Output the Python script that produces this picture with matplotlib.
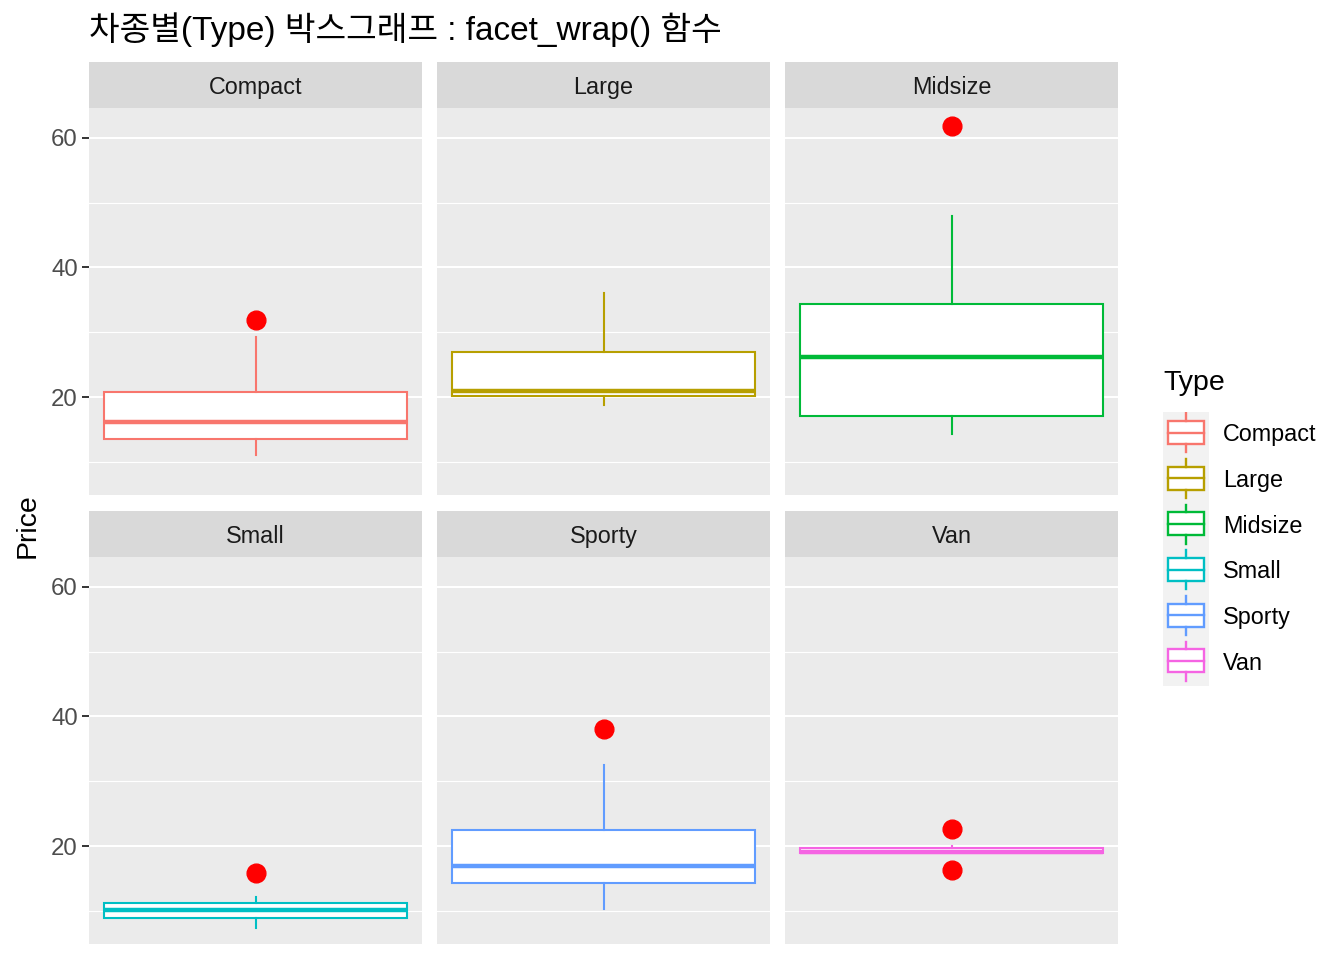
import matplotlib
matplotlib.use("Agg")
import matplotlib.pyplot as plt
from matplotlib.patches import Rectangle

plt.rcParams['font.family'] = ['Liberation Sans', 'Noto Sans CJK KR', 'DejaVu Sans']

# 데이터
types = ['Compact', 'Large', 'Midsize', 'Small', 'Sporty', 'Van']
colors = ['#F8766D', '#B79F00', '#00BA38', '#00BFC4', '#619CFF', '#F564E3']
whislo = [11.1, 18.8, 14.3, 7.4, 10.3, 19.0]
q1 = [13.5, 20.2, 17.1, 8.9, 14.3, 19.0]
med = [16.2, 21.0, 26.2, 10.1, 16.9, 19.1]
q3 = [20.8, 27.0, 34.3, 11.3, 22.5, 19.7]
whishi = [29.3, 36.1, 47.9, 12.2, 32.5, 20.0]
fliers = [[31.9], [], [61.9], [15.9], [38.0], [22.7, 16.3]]
yticks = [20, 40, 60]

W, H = 1344, 960
fig = plt.figure(figsize=(W / 100, H / 100), dpi=100)

def fig_rect(x0, y0, x1, y1):
    # 픽셀 좌표 -> figure 좌표
    return [x0 / W, 1 - y1 / H, (x1 - x0) / W, (y1 - y0) / H]

col_x = [(89, 422), (437, 770), (785, 1118)]
row_y = [(62, 108, 495), (511, 557, 944)]

for i, t in enumerate(types):
    r, c = divmod(i, 3)
    x0, x1 = col_x[c]
    s0, p0, p1 = row_y[r]

    # 스트립
    sax = fig.add_axes(fig_rect(x0, s0, x1, p0))
    sax.set_facecolor('#D9D9D9')
    sax.set_xticks([]); sax.set_yticks([])
    for sp in sax.spines.values():
        sp.set_visible(False)
    sax.text(0.5, 0.44, t, ha='center', va='center', fontsize=16.8, color='#1A1A1A',
             transform=sax.transAxes)

    ax = fig.add_axes(fig_rect(x0, p0, x1, p1))
    ax.set_facecolor('#EBEBEB')
    for sp in ax.spines.values():
        sp.set_visible(False)
    ax.set_xlim(0, 1)
    ax.set_ylim(4.9, 64.6)
    ax.set_yticks(yticks)
    ax.set_yticks([10, 30, 50], minor=True)
    ax.grid(True, which='major', axis='y', color='white', lw=1.5)
    ax.grid(True, which='minor', axis='y', color='white', lw=0.8)
    ax.set_axisbelow(True)
    ax.set_xticks([])
    ax.tick_params(axis='y', which='minor', length=0)
    if c == 0:
        ax.tick_params(axis='y', which='major', length=5, width=1.4, color='#333333',
                       labelsize=17.3, labelcolor='#4D4D4D', pad=3)
    else:
        ax.tick_params(axis='y', which='major', length=0, labelleft=False)

    stats = [dict(med=med[i], q1=q1[i], q3=q3[i], whislo=whislo[i], whishi=whishi[i],
                  fliers=fliers[i])]
    col = colors[i]
    ax.bxp(stats, positions=[0.5], widths=0.91, patch_artist=True, showcaps=False,
           boxprops=dict(facecolor='white', edgecolor=col, lw=1.5),
           whiskerprops=dict(color=col, lw=1.5),
           medianprops=dict(color=col, lw=3.2, solid_capstyle='butt'),
           flierprops=dict(marker='o', markerfacecolor='red', markeredgecolor='red',
                           markersize=13.5, linestyle='none'),
           zorder=3)
    ax.set_xlim(0, 1)
    ax.set_xticks([])

# 제목, 축 제목
fig.text(89 / W, 1 - 30 / H, '차종별(Type) 박스그래프 : facet_wrap() 함수', fontsize=24,
         ha='left', va='center', color='black')
fig.text(28 / W, 1 - 526 / H, 'Price', rotation=90, fontsize=20.5, ha='center', va='center')

# 범례
fig.text(1163 / W, 1 - 383 / H, 'Type', fontsize=20.5, ha='left', va='center')
lax = fig.add_axes(fig_rect(1163, 412, 1209, 686))
lax.set_xlim(0, 1)
lax.set_ylim(len(types), 0)
lax.set_facecolor('#F2F2F2')
lax.set_xticks([]); lax.set_yticks([])
for sp in lax.spines.values():
    sp.set_visible(False)
for k, (t, col) in enumerate(zip(types, colors)):
    lax.plot([0.5, 0.5], [k + 0.03, k + 0.2], color=col, lw=1.7)
    lax.plot([0.5, 0.5], [k + 0.7, k + 0.88], color=col, lw=1.7)
    lax.add_patch(Rectangle((0.1, k + 0.2), 0.8, 0.5, facecolor='white', edgecolor=col, lw=1.7))
    lax.plot([0.1, 0.9], [k + 0.45, k + 0.45], color=col, lw=1.7)
    fig.text(1223 / W, 1 - (412 + (k + 0.5) * 45.7) / H, t, fontsize=16.8,
             ha='left', va='center', color='black')

fig.savefig('out.png', dpi=100)
